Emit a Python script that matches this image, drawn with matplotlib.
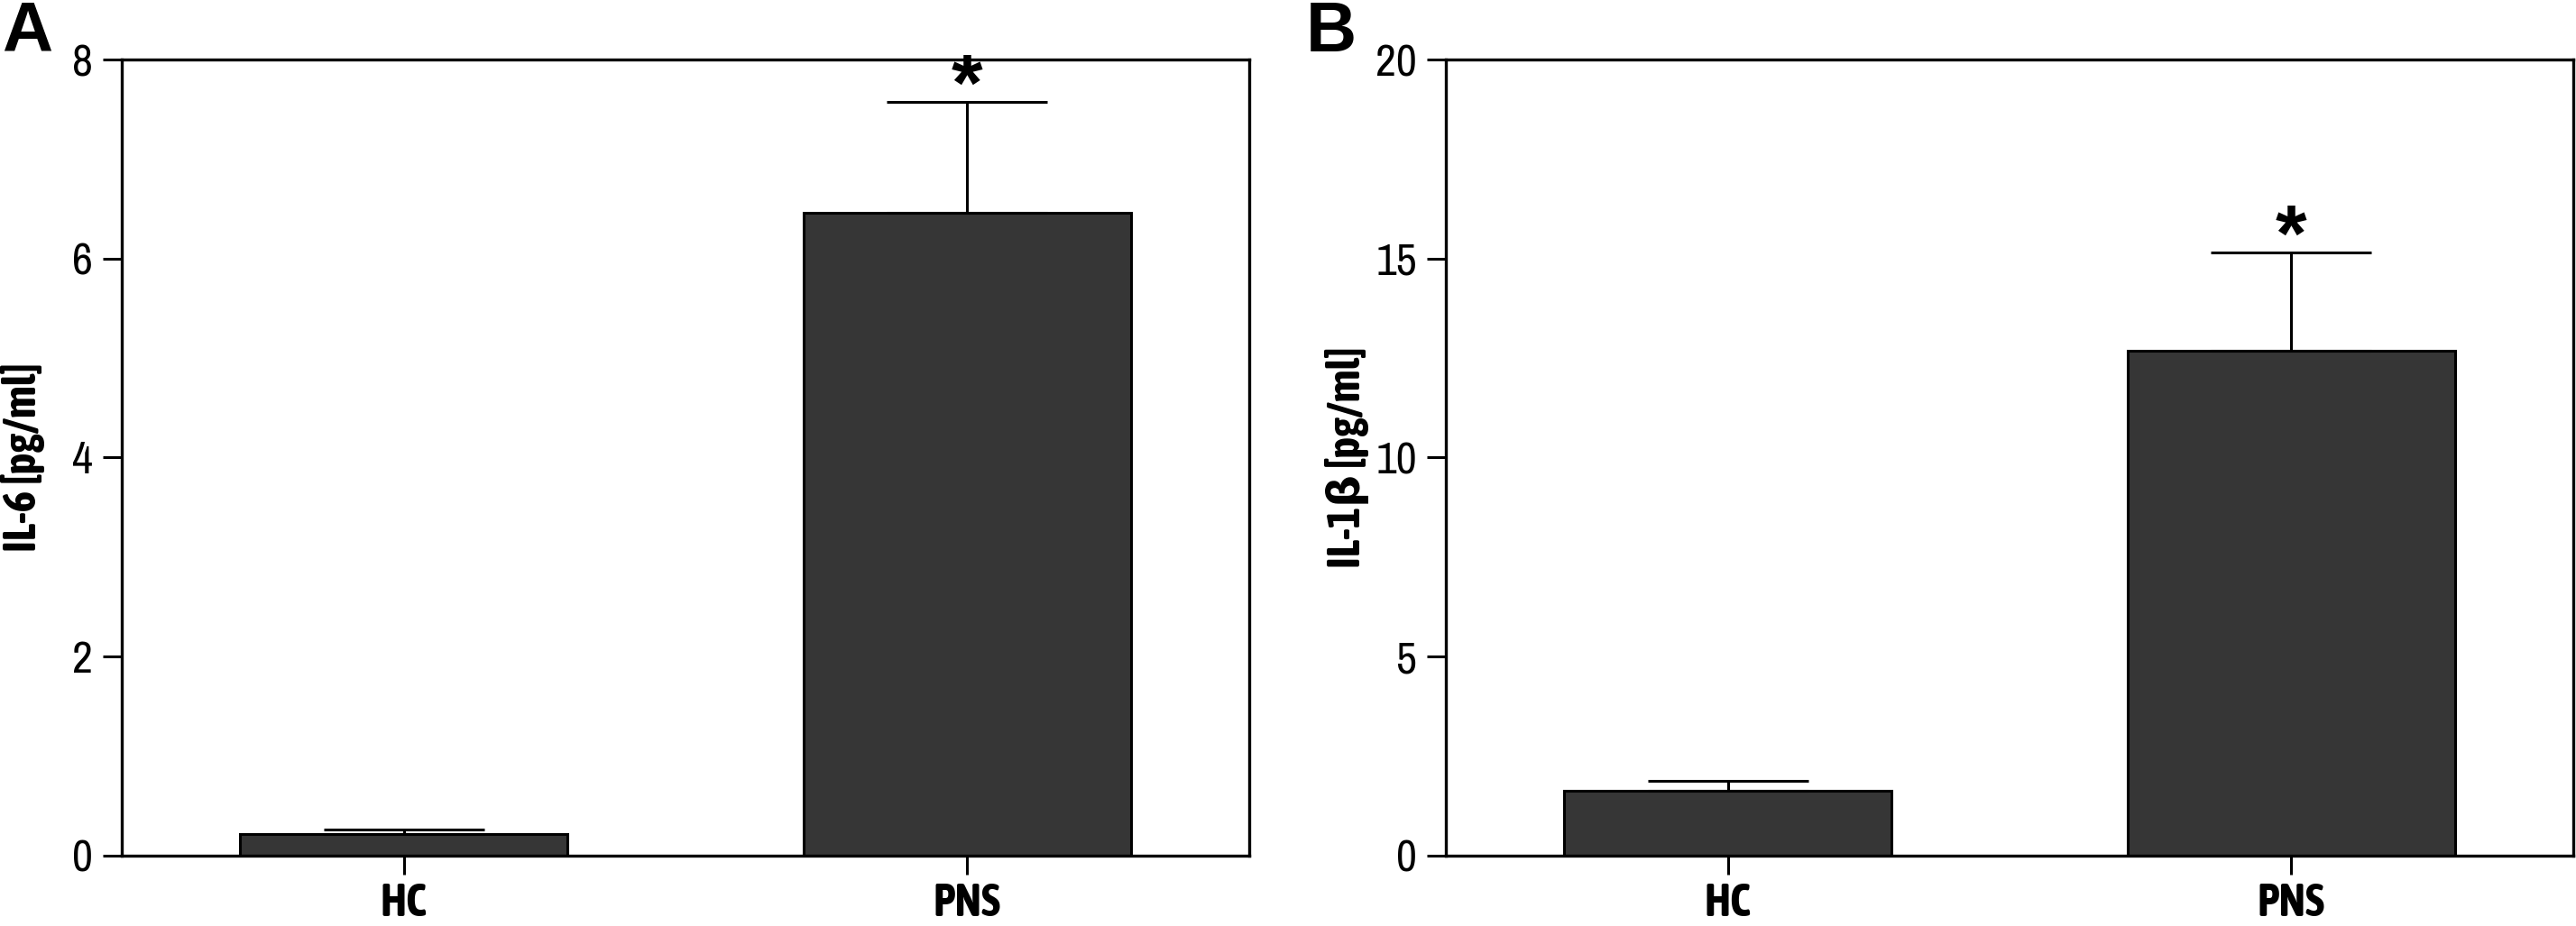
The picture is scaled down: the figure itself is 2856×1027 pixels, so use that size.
import matplotlib
matplotlib.use("Agg")
import matplotlib.pyplot as plt
from matplotlib import font_manager

# Data (mean and upper error)
groups = ["HC", "PNS"]
il6_mean = [0.215, 6.46]
il6_err = [0.05, 1.11]
il1b_mean = [1.63, 12.68]
il1b_err = [0.25, 2.47]
il6_ticks = [0, 2, 4, 6, 8]
il1b_ticks = [0, 5, 10, 15, 20]
stars = ["", "*"]


def weight_num(w):
    if isinstance(w, int):
        return w
    return font_manager.weight_dict.get(str(w).lower(), 400)


# narrow faces if installed; bold labels need a narrow face with a bold weight
narrow = {}
for f in font_manager.fontManager.ttflist:
    if "Narrow" in f.name or "Condensed" in f.name:
        narrow.setdefault(f.name, set()).add(weight_num(f.weight))
narrow_names = sorted(narrow)
narrow_bold = [n for n in narrow_names if max(narrow[n]) >= 600]
tick_font = narrow_names[0] if narrow_names else "Liberation Sans"
label_font = narrow_bold[0] if narrow_bold else "Liberation Sans"

plt.rcParams["font.family"] = [tick_font, "DejaVu Sans"]
label_family = [label_font, "DejaVu Sans"]

fig = plt.figure(figsize=(14.28, 5.135), dpi=200)

ax_a = fig.add_axes([0.0473, 0.0760, 0.4376, 0.8597])
ax_b = fig.add_axes([0.5613, 0.0760, 0.4376, 0.8597])


def draw_panel(ax, means, errs, ticks, ylabel):
    x = list(range(len(groups)))
    ax.bar(x, means, width=0.58, color="#363636", edgecolor="black",
           linewidth=1.1, zorder=2)
    ax.errorbar(x, means, yerr=[[0] * len(errs), errs], fmt="none",
                ecolor="black", elinewidth=1.1, capsize=32, capthick=1.1,
                zorder=3)
    for xi, m, e, s in zip(x, means, errs, stars):
        if s:
            ax.annotate(s, (xi, m + e), xytext=(0, -10),
                        textcoords="offset points", ha="center", va="bottom",
                        fontsize=32, fontweight="bold",
                        family=["Liberation Sans", "DejaVu Sans"])
    ax.set_xlim(-0.5, 1.5)
    ax.set_ylim(ticks[0], ticks[-1])
    ax.set_yticks(ticks)
    ax.set_xticks(x)
    ax.set_xticklabels(groups, fontweight="bold", family=label_family,
                       fontsize=18)
    ax.tick_params(axis="both", direction="out", length=7.5, width=1.1,
                   colors="black")
    ax.tick_params(axis="y", pad=4, labelsize=18)
    ax.tick_params(axis="x", pad=3)
    for sp in ax.spines.values():
        sp.set_linewidth(1.2)
    ax.set_ylabel(ylabel, fontsize=18, fontweight="bold", family=label_family)
    ax.yaxis.set_label_coords(-0.068, 0.5)


draw_panel(ax_a, il6_mean, il6_err, il6_ticks, "IL-6 [pg/ml]")
draw_panel(ax_b, il1b_mean, il1b_err, il1b_ticks, "IL-1β [pg/ml]")

fig.text(0.0007, 0.9445, "A", ha="left", va="baseline", fontsize=28,
         fontweight="bold", family=["Liberation Sans", "DejaVu Sans"])
fig.text(0.507, 0.9445, "B", ha="left", va="baseline", fontsize=28,
         fontweight="bold", family=["Liberation Sans", "DejaVu Sans"])

fig.savefig("out.png", dpi=200)
